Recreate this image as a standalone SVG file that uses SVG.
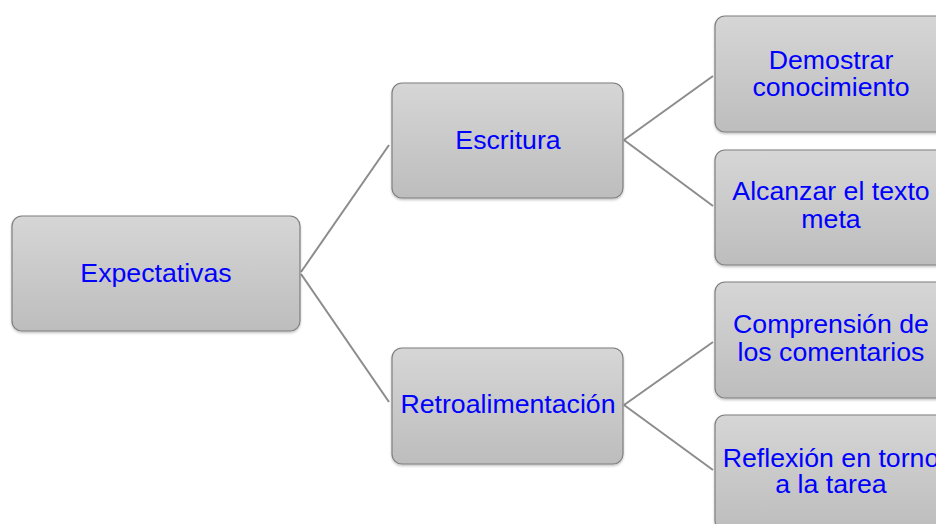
<svg xmlns="http://www.w3.org/2000/svg" width="936" height="524" viewBox="0 0 936 524">
<defs>
<linearGradient id="g" x1="0" y1="0" x2="0" y2="1">
<stop offset="0" stop-color="#d6d6d6"/>
<stop offset="1" stop-color="#bdbdbd"/>
</linearGradient>
<filter id="sh" x="-10%" y="-10%" width="120%" height="130%">
<feDropShadow dx="0" dy="1.5" stdDeviation="1.2" flood-color="#000" flood-opacity="0.25"/>
</filter>
</defs>
<style>
.box{fill:url(#g);stroke:#7f7f7f;stroke-width:1.2;filter:url(#sh)}
.t{font-family:"Liberation Sans",Arial,sans-serif;font-size:26.7px;fill:#0000ff;text-anchor:middle}
.c{stroke:#8c8c8c;stroke-width:2;fill:none}
</style>
<rect width="936" height="524" fill="#ffffff"/>
<g id="connectors">
<line class="c" x1="301" y1="272" x2="389" y2="145"/>
<line class="c" x1="301" y1="274" x2="389" y2="402"/>
<line class="c" x1="624" y1="140" x2="713" y2="76"/>
<line class="c" x1="624" y1="140" x2="713" y2="206"/>
<line class="c" x1="624" y1="405" x2="713" y2="342"/>
<line class="c" x1="624" y1="405" x2="713" y2="470"/>
</g>
<g id="expectativas">
<rect class="box" x="12" y="216" width="288" height="115" rx="10"/>
<text class="t" x="156" y="282">Expectativas</text>
</g>
<g id="escritura">
<rect class="box" x="392" y="83" width="231" height="115" rx="10"/>
<text class="t" x="508" y="149">Escritura</text>
</g>
<g id="retroalimentacion">
<rect class="box" x="392" y="348" width="231" height="116" rx="10"/>
<text class="t" x="508" y="413">Retroalimentación</text>
</g>
<g id="demostrar">
<rect class="box" x="715" y="16" width="232" height="116" rx="10"/>
<text class="t" x="831" y="69">Demostrar</text>
<text class="t" x="831" y="96">conocimiento</text>
</g>
<g id="alcanzar">
<rect class="box" x="715" y="150" width="232" height="115" rx="10"/>
<text class="t" x="831" y="200">Alcanzar el texto</text>
<text class="t" x="831" y="228">meta</text>
</g>
<g id="comprension">
<rect class="box" x="715" y="282" width="232" height="116" rx="10"/>
<text class="t" x="831" y="333">Comprensión de</text>
<text class="t" x="831" y="361">los comentarios</text>
</g>
<g id="reflexion">
<rect class="box" x="715" y="415" width="232" height="116" rx="10"/>
<text class="t" x="831" y="467">Reflexión en torno</text>
<text class="t" x="831" y="493">a la tarea</text>
</g>
</svg>
